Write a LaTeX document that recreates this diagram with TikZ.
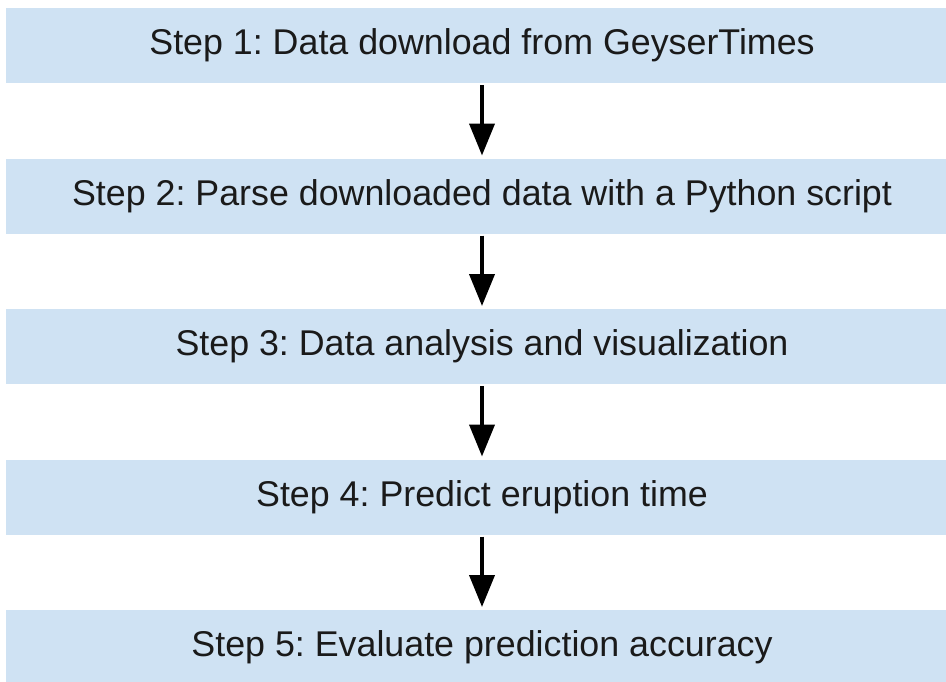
\documentclass[tikz,border=0pt]{standalone}
\usepackage{fontspec}
\setmainfont{Liberation Sans}
\frenchspacing
\usetikzlibrary{positioning, arrows.meta}
\definecolor{stepblue}{HTML}{CFE2F3}
\definecolor{steptext}{HTML}{1A1A1A}

\begin{document}
\begin{tikzpicture}[x=1pt,y=-1pt,->,>={Triangle[length=32pt,width=25pt]},shorten >=1pt,
    node distance=150.5pt,line width=4pt,
    stepbox/.style={rectangle,fill=stepblue,text=steptext,minimum width=952pt,minimum height=75pt,inner sep=0pt,font=\fontsize{35.8}{40}\selectfont}]

\useasboundingbox (0,0) rectangle (946,681);
\clip (0,0) rectangle (946,681);

\node[stepbox]                 (1) at (482,45.5) {Step 1: Data download from GeyserTimes};
\node[stepbox]                 (2) [below of=1]  {Step 2: Parse downloaded data with a Python script};
\node[stepbox]                 (3) [below of=2]  {Step 3: Data analysis and visualization};
\node[stepbox]                 (4) [below of=3]  {Step 4: Predict eruption time};
\node[stepbox]                 (5) [below of=4]  {Step 5: Evaluate prediction accuracy};

\path[]
(1) edge (2)
(2) edge (3)
(3) edge (4)
(4) edge (5)
;
\end{tikzpicture}
\end{document}
